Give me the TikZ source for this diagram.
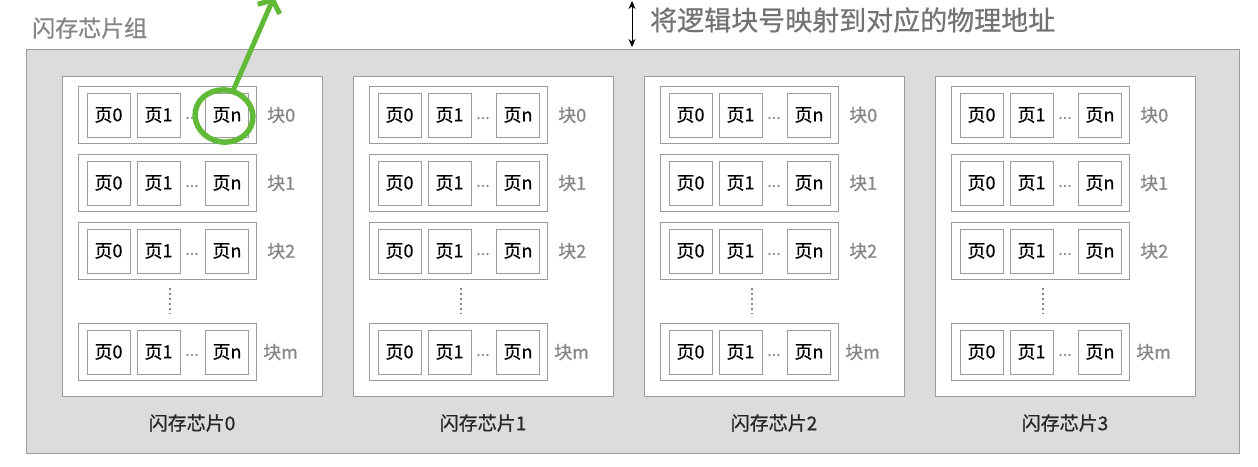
\documentclass[tikz,border=0pt]{standalone}
\usepackage{fontspec}
\setmainfont{Noto Sans CJK SC}[BoldFont=Noto Sans CJK SC, BoldFeatures={FakeBold=0.6}]
\usetikzlibrary{arrows.meta,shapes.geometric}
\definecolor{bg}{HTML}{DCDCDC}
\definecolor{edge}{HTML}{9C9C9C}
\definecolor{lbl}{HTML}{858585}
\definecolor{grn}{RGB}{96,186,56}
\tikzset{
  outerbox/.style={draw=edge, line width=1pt, fill=bg},
  chipbox/.style={draw=edge, line width=1pt, fill=white},
  blockbox/.style={draw=edge, line width=1pt, fill=white, minimum width=178pt, minimum height=57pt, inner sep=0pt},
  pagebox/.style={draw=edge, line width=1pt, fill=white, minimum width=43pt, minimum height=44pt, inner sep=0pt, text=black, font=\fontsize{18}{18}\selectfont\bfseries},
  blocklbl/.style={text=lbl, font=\fontsize{18}{18}\selectfont\bfseries, inner sep=0pt},
  chiplbl/.style={text=black!85, font=\fontsize{19}{19}\selectfont\bfseries, inner sep=0pt},
  hdots/.style={text=lbl, font=\fontsize{16}{16}\selectfont\bfseries, inner sep=0pt},
  vdots/.style={draw=lbl, line width=1.6pt, dash pattern=on 1.6pt off 3.4pt},
  titlelbl/.style={text=lbl, font=\fontsize{23}{23}\selectfont\bfseries, inner sep=0pt, anchor=west},
  notelbl/.style={text=black!55, font=\fontsize{27}{27}\selectfont\bfseries, inner sep=0pt, anchor=west},
  ring/.style={draw=grn, line width=5.5pt, ellipse, minimum width=58pt, minimum height=52pt, inner sep=0pt},
  greenarrow/.style={draw=grn, line width=5pt, line cap=round, -{Straight Barb[length=10pt,width=24pt,line width=5pt]}},
  dimarrow/.style={draw=black, line width=1pt, {Stealth[length=8pt,width=7pt]}-{Stealth[length=8pt,width=7pt]}}
}
\begin{document}
\begin{tikzpicture}[x=1pt,y=-1pt]
\useasboundingbox (0,0) rectangle (1258,466);
\fill[white] (0,0) rectangle (1258,466);
% outer group
\draw[outerbox] (26,49) rectangle (1239,453);
\node[titlelbl] (title) at (32,28) {闪存芯片组};
% chips
\foreach \c in {0,1,2,3} {
  \pgfmathsetmacro{\L}{62+291*\c}
  \draw[chipbox] (\L,76) rectangle ({\L+260},396);
  \coordinate (chip\c) at ({\L+130},236);
  \node[chiplbl] (chip\c lbl) at ({\L+130},423) {闪存芯片\c};
  \foreach \b/\y/\t in {0/115/0,1/183/1,2/251/2,3/352/m} {
    \node[blockbox] (c\c b\b) at ({\L+105},\y) {};
    \node[pagebox] (c\c b\b p0) at ({\L+46.5},\y) {页0};
    \node[pagebox] (c\c b\b p1) at ({\L+96.5},\y) {页1};
    \node[pagebox] (c\c b\b pn) at ({\L+165},\y) {页n};
    \node[hdots] (c\c b\b dots) at ({\L+130},{\y+3}) {...};
    \node[blocklbl, anchor=west] (c\c b\b lbl) at ({\L+(\b==3 ? 201 : 205)},\y) {块\t};
  }
  \coordinate (c\c vd1) at ({\L+108},288);
  \coordinate (c\c vd2) at ({\L+108},314);
  \draw[vdots] (c\c vd1) -- (c\c vd2);
}
% mapping note
\coordinate (m1) at (632,1);
\coordinate (m2) at (632,47);
\draw[dimarrow] (m1) -- (m2);
\node[notelbl] (note) at (650,20) {将逻辑块号映射到对应的物理地址};
% green annotation
\node[ring, rotate=-10] (ring) at (224,116) {};
\coordinate (gtip) at (274,-3);
\draw[greenarrow] (ring.80) -- (gtip);
\end{tikzpicture}
\end{document}
